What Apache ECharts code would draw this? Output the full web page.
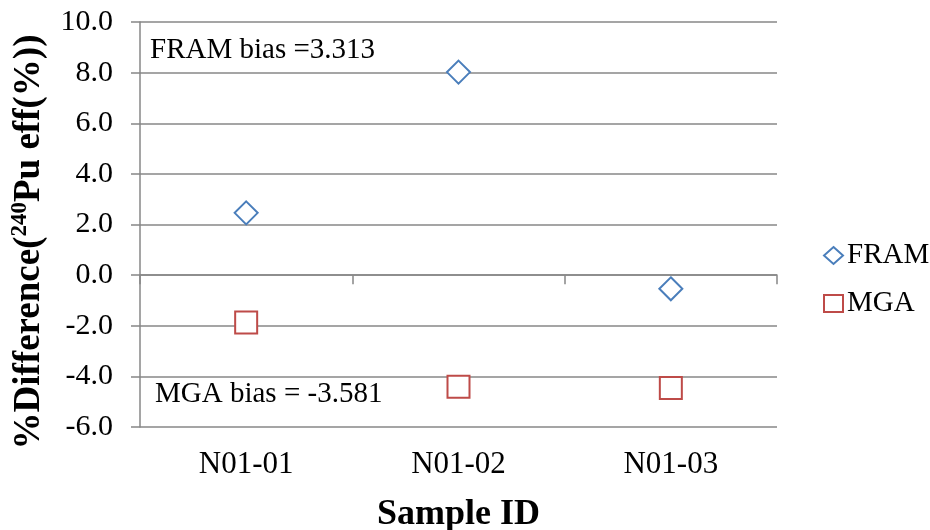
<!DOCTYPE html>
<html>
<head>
<meta charset="utf-8">
<script src="https://cdn.jsdelivr.net/npm/echarts@6/dist/echarts.min.js"></script>
<style>
  html, body { margin: 0; padding: 0; background: #ffffff; }
  #chart { width: 930px; height: 530px; }
</style>
</head>
<body>
<div id="chart"></div>
<script>
// Sample identifiers on the category axis
const sampleIds = ['N01-01', 'N01-02', 'N01-03'];
// Percent difference of 240Pu effective mass per method
const framValues = [2.46, 8.02, -0.54];
const mgaValues = [-1.87, -4.41, -4.46];
// Value axis range and step
const yMin = -6;
const yMax = 10;
const yStep = 2;
// Mean bias per method
const framBias = '3.313';
const mgaBias = '-3.581';

const serif = '"Liberation Serif", "Times New Roman", serif';
const gridGray = '#878787';

const chart = echarts.init(document.getElementById('chart'), null, { renderer: 'canvas' });

chart.setOption({
  backgroundColor: '#ffffff',
  animation: false,
  grid: { left: 140, right: 153, top: 22, bottom: 103, containLabel: false, outerBoundsMode: 'none' },
  xAxis: [
    {
      type: 'category',
      data: sampleIds,
      position: 'bottom',
      axisLine: { show: false, onZero: false },
      axisTick: { show: false },
      splitLine: { show: false },
      axisLabel: { color: '#000', fontFamily: serif, fontSize: 31, margin: 22 },
      name: 'Sample ID',
      nameLocation: 'middle',
      nameGap: 70,
      nameTextStyle: { color: '#000', fontFamily: serif, fontSize: 36, fontWeight: 'bold' }
    },
    {
      // horizontal axis line crossing at zero, with boundary ticks
      type: 'category',
      data: sampleIds,
      position: 'bottom',
      axisLine: { show: true, onZero: true, lineStyle: { color: gridGray, width: 1.5 } },
      axisTick: { show: true, length: 9, lineStyle: { color: gridGray, width: 1.5 } },
      axisLabel: { show: false },
      splitLine: { show: false }
    }
  ],
  yAxis: {
    type: 'value',
    min: yMin,
    max: yMax,
    interval: yStep,
    axisLine: { show: true, lineStyle: { color: gridGray, width: 1.5 } },
    axisTick: { show: true, length: 9, lineStyle: { color: gridGray, width: 1.5 } },
    splitLine: { show: true, lineStyle: { color: gridGray, width: 1.5 } },
    axisLabel: {
      color: '#000',
      fontFamily: serif,
      fontSize: 30,
      margin: 27,
      formatter: v => v.toFixed(1)
    }
  },
  legend: {
    orient: 'vertical',
    left: 818,
    top: 236,
    itemWidth: 19,
    itemHeight: 17,
    itemGap: 19,
    textStyle: { color: '#000', fontFamily: serif, fontSize: 29, padding: [0, 0, 0, -1] },
    data: [
      { name: 'FRAM', icon: 'diamond' },
      { name: 'MGA', icon: 'rect' }
    ]
  },
  series: [
    {
      name: 'FRAM',
      type: 'scatter',
      xAxisIndex: 0,
      data: framValues,
      symbol: 'diamond',
      symbolSize: [23, 23],
      itemStyle: { color: '#ffffff', borderColor: '#4a7ebb', borderWidth: 2, opacity: 1 }
    },
    {
      name: 'MGA',
      type: 'scatter',
      xAxisIndex: 0,
      data: mgaValues,
      symbol: 'rect',
      symbolSize: [22, 22],
      itemStyle: { color: '#ffffff', borderColor: '#be4b48', borderWidth: 2, opacity: 1 }
    }
  ],
  graphic: [
    {
      type: 'text',
      left: 150,
      top: 36,
      style: { text: 'FRAM bias =' + framBias, fill: '#000', font: '29px ' + serif }
    },
    {
      type: 'text',
      left: 155,
      top: 380,
      style: { text: 'MGA bias = ' + mgaBias, fill: '#000', font: '29px ' + serif }
    },
    {
      type: 'text',
      x: 29,
      y: 242,
      rotation: Math.PI / 2,
      style: {
        text: '{b|%Difference(}{s|240}{b|Pu eff(%))}',
        align: 'center',
        verticalAlign: 'middle',
        fill: '#000',
        rich: {
          b: { fontFamily: serif, fontSize: 37, fontWeight: 'bold', fill: '#000', lineHeight: 40 },
          s: { fontFamily: serif, fontSize: 23, fontWeight: 'bold', fill: '#000', verticalAlign: 'top', lineHeight: 40 }
        }
      }
    }
  ]
});
</script>
</body>
</html>
